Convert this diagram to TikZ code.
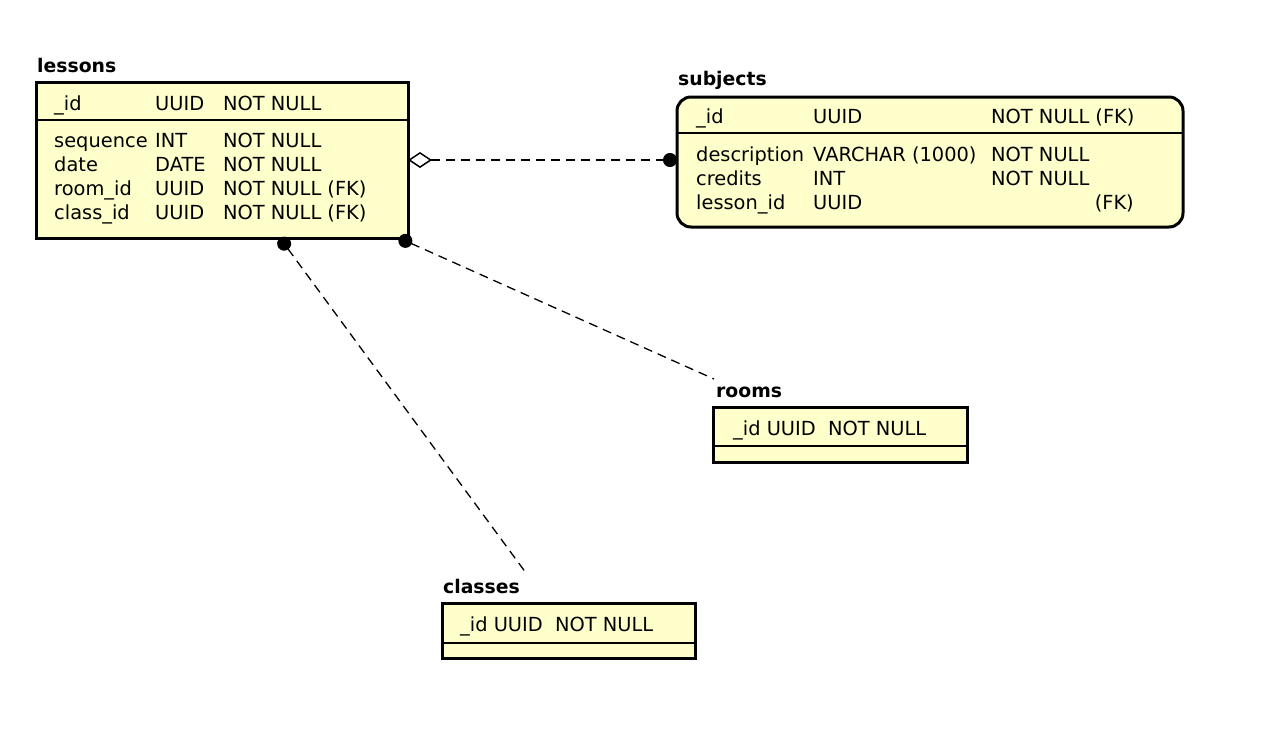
\documentclass[tikz,border=0pt]{standalone}
\usepackage{fontspec}
\setmainfont{DejaVu Sans}
\usetikzlibrary{arrows.meta,calc,positioning}
\definecolor{ent}{RGB}{255,255,204}
\tikzset{
  entbox/.style={draw=black,line width=3pt,fill=ent,inner sep=0,outer sep=0,anchor=north west},
  enttitle/.style={anchor=base west,inner sep=0,font=\fontsize{18.8}{20}\selectfont\bfseries},
  fld/.style={anchor=base west,inner sep=0,font=\fontsize{19.4}{21}\selectfont},
  sep/.style={line width=1.5pt},
  rel/.style={line width=1.3pt,dash pattern=on 9pt off 6pt},
  dot/.tip={Circle[length=14pt]}
}

\begin{document}
\begin{tikzpicture}[x=1pt,y=-1pt]
\useasboundingbox (0,0) rectangle (1280,745);

% lessons
\node[enttitle] (lessons-t) at (37,72) {lessons};
\node[entbox,minimum width=372pt,minimum height=156pt] (lessons) at (36,82) {};
\draw[sep] (lessons.west |- 0,120) -- (lessons.east |- 0,120);
\node[fld] (ls-id) at (54,110) {\_id};
\node[fld] at (155,110) {UUID};
\node[fld] at (223,110) {NOT NULL};
\foreach \n/\t/\c [count=\i] in {sequence/INT/NOT NULL,date/DATE/NOT NULL,
    room\_id/UUID/NOT NULL (FK),class\_id/UUID/NOT NULL (FK)}{
  \node[fld] (ls-\i) at (54,123+24*\i) {\n};
  \node[fld] at (155,123+24*\i) {\t};
  \node[fld] at (223,123+24*\i) {\c};
}

% subjects
\node[enttitle] (subjects-t) at (678,85) {subjects};
\node[entbox,rounded corners=14pt,minimum width=506pt,minimum height=130pt] (subjects) at (677,97) {};
\draw[sep] (subjects.west |- 0,133) -- (subjects.east |- 0,133);
\node[fld] (sb-id) at (696,123) {\_id};
\node[fld] at (813,123) {UUID};
\node[fld] at (991,123) {NOT NULL (FK)};
\foreach \n/\t/\c [count=\i] in {description/VARCHAR (1000)/NOT NULL,credits/INT/NOT NULL}{
  \node[fld] (sb-\i) at (696,137+24*\i) {\n};
  \node[fld] at (813,137+24*\i) {\t};
  \node[fld] at (991,137+24*\i) {\c};
}
\node[fld] (sb-3) at (696,209) {lesson\_id};
\node[fld] at (813,209) {UUID};
\node[fld,anchor=base east] at (1134,209) {(FK)};

% rooms
\node[enttitle] (rooms-t) at (716,397) {rooms};
\node[entbox,minimum width=254pt,minimum height=55pt] (rooms) at (713,407) {};
\draw[sep] (rooms.west |- 0,446) -- (rooms.east |- 0,446);
\node[fld] (rm-id) at (733,435) {\_id UUID\ \ NOT NULL};

% classes
\node[enttitle] (classes-t) at (443,593) {classes};
\node[entbox,minimum width=253pt,minimum height=55pt] (classes) at (442,603) {};
\draw[sep] (classes.west |- 0,643) -- (classes.east |- 0,643);
\node[fld] (cl-id) at (460,631) {\_id UUID\ \ NOT NULL};

% relations
\coordinate (lc) at ($(lessons.south west)+(244,0)$);
\coordinate (lr) at ($(lessons.south west)+(363,0)$);
\coordinate (cend) at (526,573);
\coordinate (rend) at (714,379);
\draw[rel,{Diamond[open,length=24pt,width=16pt,line width=1.5pt]}-dot] (lessons.east) -- (lessons.east -| subjects.west);
\draw[rel,dot-] (lc) -- (cend);
\draw[rel,dot-] (lr) -- (rend);
\end{tikzpicture}
\end{document}
